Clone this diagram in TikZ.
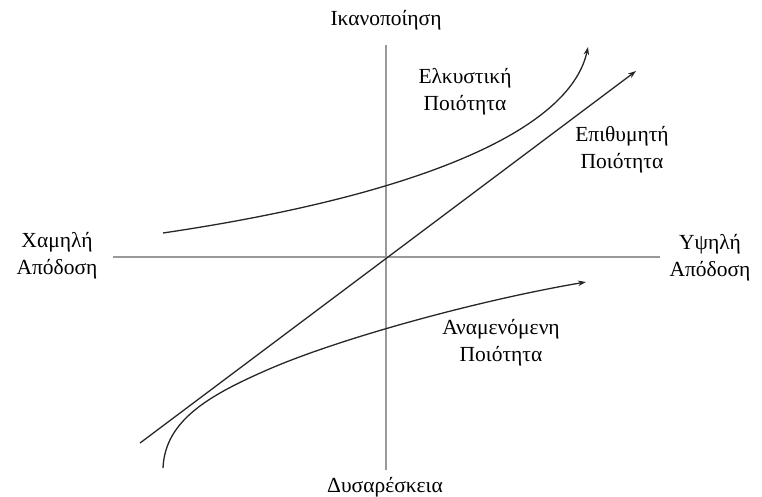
\documentclass[tikz,border=0pt]{standalone}
\usepackage{fontspec}
\setmainfont{Liberation Serif}
\usetikzlibrary{arrows.meta}
\begin{document}
\begin{tikzpicture}[x=1pt,y=-1pt,
  lbl/.style={font=\fontsize{21.5}{27}\selectfont, align=center, inner sep=0pt},
  axis/.style={draw=black!40, line width=1.6pt},
  crv/.style={draw=black!85, line width=1.3pt, -{Stealth[length=8pt,width=5.5pt]}}]
\useasboundingbox (0,0) rectangle (762,497);
% axes
\coordinate (vt) at (386,45);
\coordinate (vb) at (386,470);
\coordinate (hl) at (113,257);
\coordinate (hr) at (660,257);
\draw[axis] (vt) -- (vb);
\draw[axis] (hl) -- (hr);
% labels
\node[lbl] (sat) at (386,20) {Ικανοποίηση};
\node[lbl] (dis) at (385,487) {Δυσαρέσκεια};
\node[lbl] (low) at (57,256) {Χαμηλή\\Απόδοση};
\node[lbl] (high) at (710,258) {Υψηλή\\Απόδοση};
\node[lbl] (att) at (465,92) {Ελκυστική\\Ποιότητα};
\node[lbl] (des) at (622,150) {Επιθυμητή\\Ποιότητα};
\node[lbl] (exp) at (501,343) {Αναμενόμενη\\Ποιότητα};
% curves
\coordinate (a0) at (163,233);
\coordinate (a1) at (588,47);
\draw[crv] (a0) .. controls (420,195) and (570,130) .. (a1);
\coordinate (d0) at (140,443);
\coordinate (d1) at (636,71);
\draw[crv] (d0) -- (d1);
\coordinate (e0) at (163,468);
\coordinate (em) at (267,370);
\coordinate (e1) at (586,282);
\draw[crv] (e0) .. controls (165,420) and (210,395) .. (em)
  .. controls (340,338) and (480,300) .. (e1);
\end{tikzpicture}
\end{document}
